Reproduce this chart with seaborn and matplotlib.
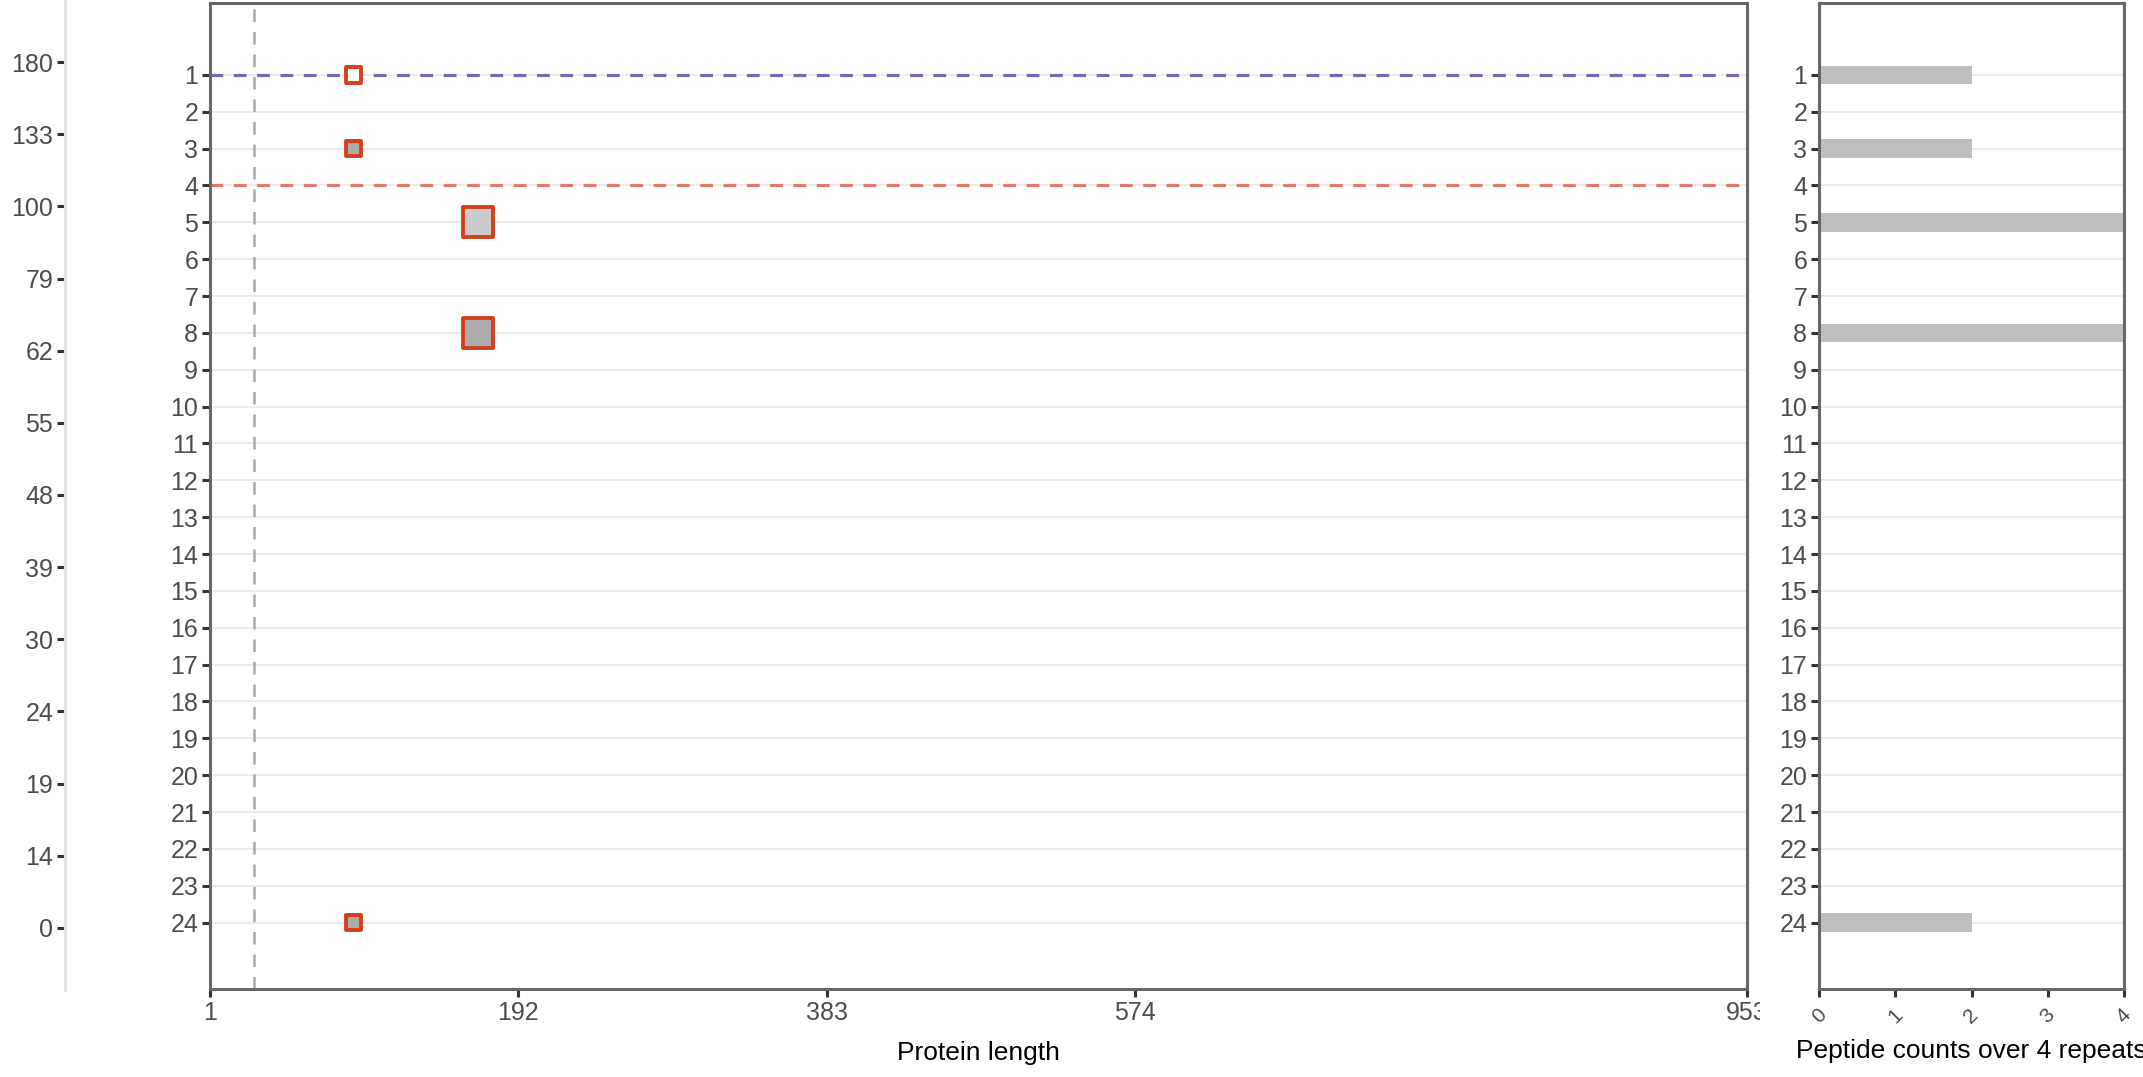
import numpy as np
import pandas as pd
import matplotlib
matplotlib.use("Agg")
import matplotlib.pyplot as plt
import matplotlib.transforms as mtransforms
import seaborn as sns

# peptide rows shown on the y axis
peptide_ids = list(range(1, 25))

# peptides that were mapped onto the protein
hit_peptides = [1, 3, 5, 8, 24]
hit_start = [90, 90, 167, 167, 90]
hit_counts = [2, 2, 4, 4, 2]
hit_fill = ["#FFFFFF", "#ABABAB", "#CBCBCB", "#ABABAB", "#ABABAB"]

# peptide counts over the 4 repeats (all 24 rows)
repeat_counts = [2, 0, 2, 0, 4, 0, 0, 4, 0, 0, 0, 0,
                 0, 0, 0, 0, 0, 0, 0, 0, 0, 0, 0, 2]

protein_ticks = [1, 192, 383, 574, 953]
signal_cut = 28
line_blue = 1
line_red = 4

side_labels = ["180", "133", "100", "79", "62", "55", "48",
               "39", "30", "24", "19", "14", "0"]

sns.set_theme(style="white")
plt.rcParams["font.family"] = ["Liberation Sans", "DejaVu Sans"]

W, H = 2143, 1077
fig = plt.figure(figsize=(W / 100, H / 100), dpi=100)

def box(x0, y0, x1, y1):
    # pixel box (top-left origin) -> figure fraction
    return [x0 / W, 1 - y1 / H, (x1 - x0) / W, (y1 - y0) / H]

ax_side = fig.add_axes(box(65, 0, 66, 990))
ax = fig.add_axes(box(210, 3, 1747, 989))
axr = fig.add_axes(box(1819, 3, 2124, 989))

spine_col = "#676767"
tick_col = "#333333"
txt_col = "#4D4D4D"
grid_col = "#EBEBEB"
ylim = (25.8, -0.95)
tick_size = 18

# ---- left strip (leftover axis) ----
ax_side.set_ylim(12.86, -0.86)
ax_side.set_yticks(range(len(side_labels)))
ax_side.set_yticklabels(side_labels)
ax_side.set_xticks([])
for s in ["top", "right", "bottom"]:
    ax_side.spines[s].set_visible(False)
ax_side.spines["left"].set_color("#E6E6E6")
ax_side.spines["left"].set_linewidth(2.2)
ax_side.tick_params(axis="y", left=True, length=5.5, width=2.2, color=tick_col,
                    labelsize=tick_size, labelcolor=txt_col, pad=3)
ax_side.patch.set_visible(False)

# ---- main panel ----
df = pd.DataFrame({"start": hit_start, "peptide": hit_peptides,
                   "count": hit_counts, "fill": hit_fill})
ax.set_axisbelow(True)
ax.yaxis.grid(True, color=grid_col, lw=1.3, zorder=0)
for xv in protein_ticks[1:-1]:
    ax.axvline(xv, color="white", lw=1.6, zorder=0.5)
ax.axvline(signal_cut, color="#A8A8A8", lw=1.8, ls=(0, (5, 4)), zorder=1)
ax.axhline(line_blue, color="#7866B6", lw=2.3, ls=(0, (4, 3.3)), zorder=1)
ax.axhline(line_red, color="#DD7B6E", lw=2.3, ls=(0, (4, 3.3)), zorder=1)
sns.scatterplot(data=df, x="start", y="peptide", size="count",
                sizes={2: 125, 4: 460}, hue="fill",
                palette={c: c for c in hit_fill}, marker="s",
                edgecolor="#D4401C", linewidth=2.8, legend=False,
                zorder=3, ax=ax)
ax.set_xlim(1, 953)
ax.set_ylim(*ylim)
ax.set_xticks(protein_ticks)
ax.set_xticklabels([str(v) for v in protein_ticks])
ax.set_yticks(peptide_ids)
ax.set_yticklabels([str(v) for v in peptide_ids])
ax.set_xlabel("Protein length", fontsize=19, color="black", labelpad=12)
ax.set_ylabel("")

# ---- right panel ----
axr.set_axisbelow(True)
axr.yaxis.grid(True, color=grid_col, lw=1.3, zorder=0)
sns.barplot(x=repeat_counts, y=peptide_ids, orient="h", native_scale=True,
            width=0.5, color="#BEBEBE", saturation=1, linewidth=0,
            errorbar=None, ax=axr)
axr.set_xlim(0, 4)
axr.set_ylim(*ylim)
axr.set_xticks(range(5))
axr.set_xticklabels([str(v) for v in range(5)], rotation=45,
                    ha="center", va="top")
axr.set_yticks(peptide_ids)
axr.set_yticklabels([str(v) for v in peptide_ids])
axr.set_xlabel("Peptide counts over 4 repeats", fontsize=19,
               color="black", labelpad=9)
axr.set_ylabel("")

for a in (ax, axr):
    for s in a.spines.values():
        s.set_visible(True)
        s.set_color(spine_col)
        s.set_linewidth(2.2)
    a.tick_params(axis="both", bottom=True, left=True, length=5.5, width=2.2,
                  color=tick_col, labelcolor=txt_col, pad=3,
                  labelsize=tick_size)
axr.tick_params(axis="x", labelsize=15, pad=6)

# the last protein tick label is cut at the panel gap
clip = mtransforms.TransformedBbox(
    mtransforms.Bbox([[0, 0], [1760 / W, 1]]), fig.transFigure)
for lab in ax.get_xticklabels():
    lab.set_clip_box(clip)
    lab.set_clip_on(True)

fig.savefig("out.png", dpi=100)
